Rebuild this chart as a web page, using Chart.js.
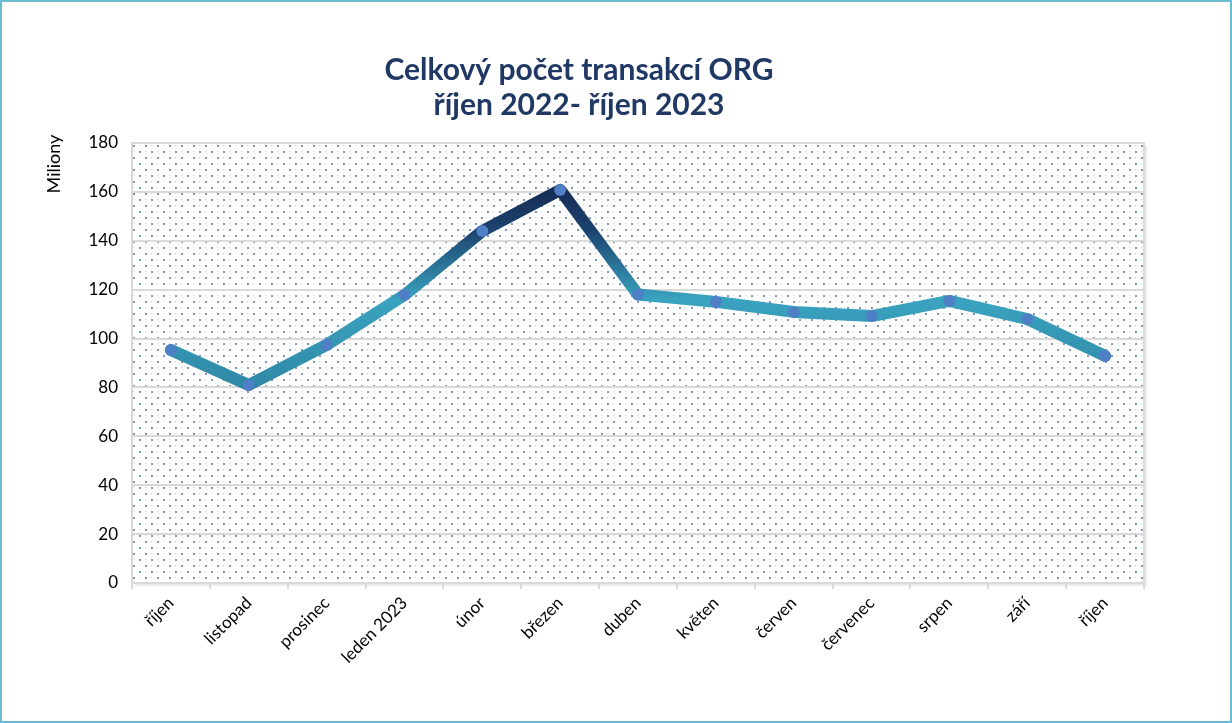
<!DOCTYPE html>
<html>
<head>
<meta charset="utf-8">
<script src="https://cdn.jsdelivr.net/npm/chart.js@4/dist/chart.umd.min.js"></script>
<style>
  html, body { margin: 0; padding: 0; background: #fff; }
  #wrap { position: relative; width: 1232px; height: 723px; }
</style>
</head>
<body>
<div id="wrap"><canvas id="graf"></canvas></div>
<script>
// --- data ---
const mesice = ['říjen', 'listopad', 'prosinec', 'leden 2023', 'únor', 'březen', 'duben',
  'květen', 'červen', 'červenec', 'srpen', 'září', 'říjen'];
const transakce = [95.3, 81, 97.4, 117.8, 144, 160.8, 118, 115, 110.9, 109.2, 115.4, 108, 92.9];
const titulek = ['Celkový počet transakcí ORG', 'říjen 2022- říjen 2023'];
const osaY = 'Miliony';

const FONT = 'Lato, "Open Sans", sans-serif';

// tečkovaná výplň plochy grafu
function teckovanyVzor() {
  const c = document.createElement('canvas');
  c.width = 12; c.height = 12;
  const g = c.getContext('2d');
  g.fillStyle = 'rgba(74,108,150,0.7)';
  g.fillRect(1, 1, 2, 2);
  g.fillRect(7, 7, 2, 2);
  g.fillStyle = 'rgba(74,108,150,0.3)';
  g.fillRect(7, 1, 1, 1);
  g.fillRect(1, 7, 1, 1);
  return g.createPattern(c, 'repeat');
}

const pozadi = {
  id: 'pozadi',
  beforeDraw(chart) {
    const { ctx, chartArea: a } = chart;
    ctx.save();
    ctx.fillStyle = '#fff';
    ctx.fillRect(0, 0, chart.width, chart.height);
    // stín a rámeček plochy
    ctx.fillStyle = 'rgba(0,0,0,0.08)';
    ctx.fillRect(a.left + 3, a.top + 3, a.width, a.height);
    ctx.fillStyle = '#fff';
    ctx.fillRect(a.left, a.top, a.width, a.height);
    ctx.fillStyle = teckovanyVzor();
    ctx.fillRect(a.left, a.top, a.width, a.height);
    ctx.strokeStyle = '#d9d9d9';
    ctx.lineWidth = 2;
    ctx.strokeRect(a.left, a.top, a.width, a.height);
    ctx.restore();
  },
  afterDraw(chart) {
    const { ctx } = chart;
    ctx.save();
    ctx.fillStyle = '#1f3864';
    ctx.font = 'bold 30px ' + FONT;
    ctx.textAlign = 'center';
    ctx.textBaseline = 'middle';
    ctx.fillText(titulek[0], 579, 70);
    ctx.fillText(titulek[1], 579, 105);
    // popisek osy Y
    ctx.fillStyle = '#000';
    ctx.font = '18px ' + FONT;
    ctx.translate(54, 164);
    ctx.rotate(-Math.PI / 2);
    ctx.fillText(osaY, 0, 0);
    ctx.restore();
    // vnější rámeček
    ctx.save();
    ctx.strokeStyle = '#6bbcd3';
    ctx.lineWidth = 2;
    ctx.strokeRect(1, 1, chart.width - 2, chart.height - 2);
    ctx.restore();
  }
};

function barvaCary(context) {
  const { chart } = context;
  const a = chart.chartArea;
  if (!a) return '#2c7fa0';
  const y = chart.scales.y;
  const gr = chart.ctx.createLinearGradient(0, y.getPixelForValue(160), 0, y.getPixelForValue(80));
  gr.addColorStop(0, '#152d55');
  gr.addColorStop(0.2, '#1c4470');
  gr.addColorStop(0.55, '#3aa3bf');
  gr.addColorStop(1, '#2f88a6');
  return gr;
}

const ctx = document.getElementById('graf').getContext('2d');

new Chart(ctx, {
  type: 'line',
  data: {
    labels: mesice,
    datasets: [{
      label: 'Transakce',
      data: transakce,
      borderColor: barvaCary,
      borderWidth: 12,
      borderCapStyle: 'round',
      borderJoinStyle: 'round',
      tension: 0,
      pointRadius: 6,
      pointBackgroundColor: '#4f7fc4',
      pointBorderWidth: 0
    }]
  },
  plugins: [pozadi],
  options: {
    responsive: true,
    maintainAspectRatio: false,
    animation: false,
    layout: { padding: { top: 143, right: 88, left: 0, bottom: 0 } },
    plugins: {
      legend: { display: false },
      tooltip: { enabled: false }
    },
    scales: {
      x: {
        offset: true,
        afterFit: s => { s.height = 140; },
        grid: {
          offset: true,
          drawOnChartArea: false,
          drawTicks: true,
          tickLength: 6,
          color: '#d9d9d9',
          lineWidth: 2
        },
        border: { display: false },
        ticks: {
          color: '#000',
          font: { family: FONT, size: 17 },
          maxRotation: 45,
          minRotation: 45,
          padding: 4
        }
      },
      y: {
        min: 0,
        max: 180,
        afterFit: s => { s.width = 132; },
        grid: { color: '#d9d9d9', lineWidth: 2, drawTicks: false },
        border: { display: false },
        ticks: {
          stepSize: 20,
          color: '#000',
          font: { family: FONT, size: 17 },
          padding: 14
        }
      }
    }
  }
});
</script>
</body>
</html>
